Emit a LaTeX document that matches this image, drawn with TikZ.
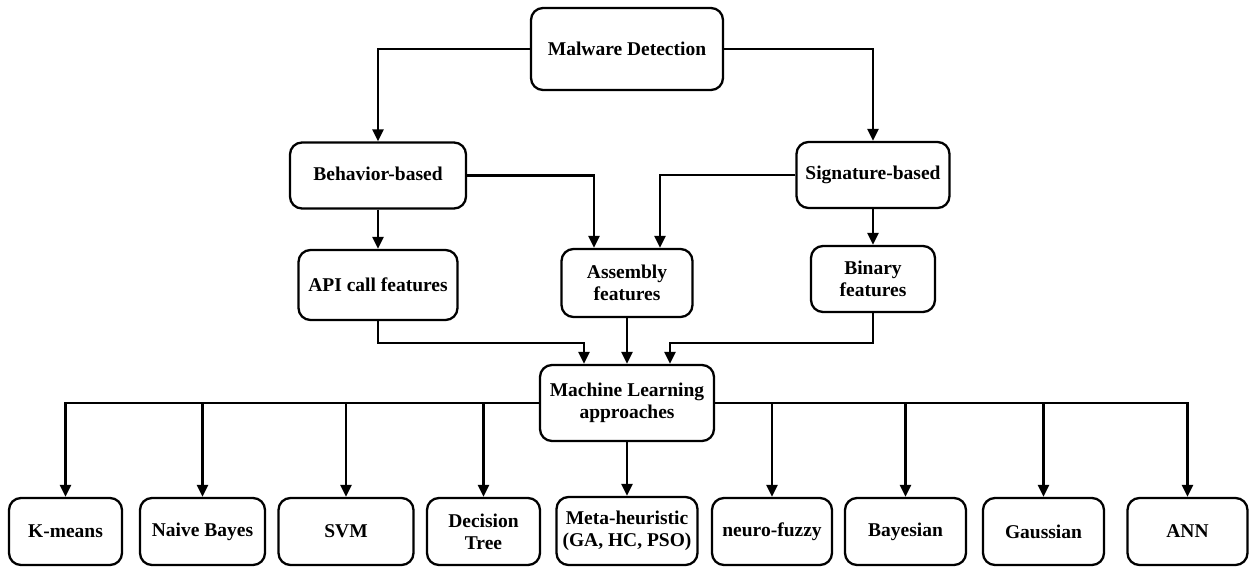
\documentclass[tikz,border=0pt]{standalone}
\usepackage{fontspec}
\setmainfont{Liberation Serif}
\usetikzlibrary{arrows.meta,positioning}

\begin{document}
\begin{tikzpicture}[
  x=1pt, y=-1pt,
  font=\fontsize{19.5}{22}\selectfont\bfseries, >={Triangle[length=12pt,width=11pt]},
  box/.style={draw=black, fill=white, line width=2.3pt, rounded corners=12pt, inner sep=2pt, align=center},
  basebox/.style={box, minimum height=66pt, text height=13.5pt, text depth=4.5pt},
  featbox/.style={box, minimum height=68pt},
  algo/.style={box, minimum height=67pt},
  wire/.style={->, line width=2.3pt, black},
]
  \path[use as bounding box, fill=white] (0,0) rectangle (1250,566);
  % detection families
  \node[box, minimum width=192pt, minimum height=82pt] (mal) at (627,49) {Malware Detection};
  \node[basebox, minimum width=176pt] (beh) at (378,175.5) {Behavior-based};
  \node[basebox, minimum width=153pt] (sig) at (873,175) {Signature-based};
  % feature types
  \node[featbox, minimum width=159pt, minimum height=70pt] (api) at (378,285) {API call features};
  \node[featbox, minimum width=131pt] (asm) at (627,283) {Assembly\\features};
  \node[featbox, minimum width=124pt, minimum height=66pt] (bin) at (873,279) {Binary\\features};
  \node[box, minimum width=174pt, minimum height=76pt] (ml) at (627,403) {Machine Learning\\approaches};
  % learning methods
  \node[algo, minimum width=113pt] (km) at (65.5,531.5) {K-means};
  \node[algo, minimum width=125pt] (nb) at (202.5,531.5) {Naive Bayes};
  \node[algo, minimum width=135pt] (svm) at (346,531.5) {SVM};
  \node[algo, minimum width=113pt] (dt) at (483.5,531.5) {Decision\\Tree};
  \node[algo, minimum width=141pt, minimum height=68pt] (meta) at (627,531) {Meta-heuristic\\(GA, HC, PSO)};
  \node[algo, minimum width=120pt] (nf) at (772,531.5) {neuro-fuzzy};
  \node[algo, minimum width=121pt] (bay) at (905.5,531.5) {Bayesian};
  \node[algo, minimum width=121pt] (gau) at (1043.5,531.5) {Gaussian};
  \node[algo, minimum width=120pt] (ann) at (1187.5,531.5) {ANN};

  \draw[wire] (mal.west) -| (beh.north);
  \draw[wire] (mal.east) -| (sig.north);
  \draw[wire] (beh.east) -| ([xshift=-33pt]asm.north);
  \draw[wire] (sig.west) -| ([xshift=33pt]asm.north);
  \draw[wire] (beh.south) -- (api.north);
  \draw[wire] (sig.south) -- (bin.north);
  \draw[wire] (api.south) -- ++(0,22) -| ([xshift=-43pt]ml.north);
  \draw[wire] (asm.south) -- (ml.north);
  \draw[wire] (bin.south) -- ++(0,30) -| ([xshift=43pt]ml.north);
  \foreach \m in {km,nb,svm,dt} \draw[wire] (ml.west) -| (\m.north);
  \foreach \m in {nf,bay,gau,ann} \draw[wire] (ml.east) -| (\m.north);
  \draw[wire] (ml.south) -- (meta.north);
\end{tikzpicture}
\end{document}
